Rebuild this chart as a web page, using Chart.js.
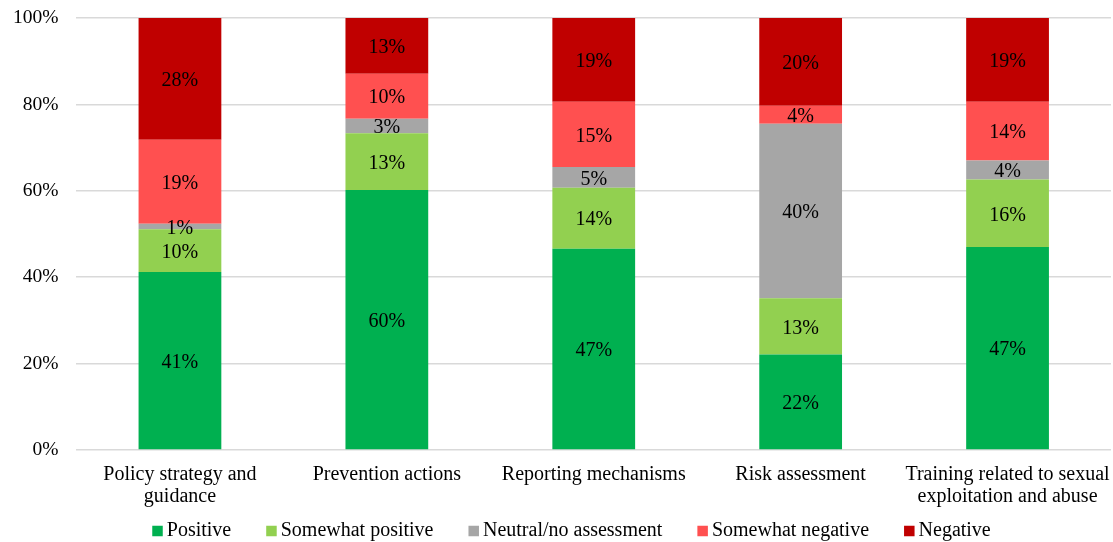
<!DOCTYPE html>
<html>
<head>
<meta charset="utf-8">
<script src="https://cdn.jsdelivr.net/npm/chart.js@4/dist/chart.umd.min.js"></script>
<style>
  html, body { margin: 0; padding: 0; background: #fff; }
  #wrap { position: relative; width: 1113px; height: 542px; }
</style>
</head>
<body>
<div id="wrap"><canvas id="chart"></canvas></div>
<script>
// Categories (multi-line labels as drawn under the axis)
const categories = [
  ['Policy strategy and', 'guidance'],
  'Prevention actions',
  'Reporting mechanisms',
  'Risk assessment',
  ['Training related to sexual', 'exploitation and abuse']
];

// Shares in percent (labels show them rounded)
const positive         = [41.2, 60.2, 46.6, 22.1, 47.0];
const somewhatPositive = [9.9, 13.1, 14.1, 13.0, 15.6];
const neutral          = [1.3, 3.4, 4.8, 40.4, 4.4];
const somewhatNegative = [19.4, 10.4, 15.1, 4.2, 13.6];
const negative         = [28.2, 12.9, 19.4, 20.3, 19.4];

const yTicks = [0, 20, 40, 60, 80, 100];

const FONT = '"Liberation Serif", "Times New Roman", serif';

// in-bar value labels (no datalabels plugin offline)
const barLabels = {
  id: 'barLabels',
  afterDatasetsDraw(chart) {
    const ctx = chart.ctx;
    ctx.save();
    ctx.font = '20px ' + FONT;
    ctx.fillStyle = '#000';
    ctx.textAlign = 'center';
    ctx.textBaseline = 'middle';
    chart.data.datasets.forEach((ds, i) => {
      chart.getDatasetMeta(i).data.forEach((bar, j) => {
        const y = (bar.y + bar.base) / 2;
        ctx.fillText(Math.round(ds.data[j]) + '%', bar.x, y + 2);
      });
    });
    ctx.restore();
  }
};

// legend drawn by hand so the gaps between items can be wide like the original
const wideLegend = {
  id: 'wideLegend',
  afterDraw(chart) {
    const ctx = chart.ctx;
    const box = 10.5, boxGap = 4, itemGap = 35;
    ctx.save();
    ctx.font = '20px ' + FONT;
    const items = chart.data.datasets.map(ds => ({
      text: ds.label, color: ds.backgroundColor, w: ctx.measureText(ds.label).width
    }));
    const total = items.reduce((s, it) => s + box + boxGap + it.w, 0) + itemGap * (items.length - 1);
    let x = chart.width / 2 + 15 - total / 2;
    const y = chart.height - 11;
    ctx.textBaseline = 'middle';
    ctx.textAlign = 'left';
    items.forEach(it => {
      ctx.fillStyle = it.color;
      ctx.fillRect(x, y - box / 2, box, box);
      ctx.fillStyle = '#000';
      ctx.fillText(it.text, x + box + boxGap, y);
      x += box + boxGap + it.w + itemGap;
    });
    ctx.restore();
  }
};

new Chart(document.getElementById('chart'), {
  type: 'bar',
  data: {
    labels: categories,
    datasets: [
      { label: 'Positive', data: positive, backgroundColor: '#00B050' },
      { label: 'Somewhat positive', data: somewhatPositive, backgroundColor: '#92D050' },
      { label: 'Neutral/no assessment', data: neutral, backgroundColor: '#A6A6A6' },
      { label: 'Somewhat negative', data: somewhatNegative, backgroundColor: '#FF5050' },
      { label: 'Negative', data: negative, backgroundColor: '#C00000' }
    ]
  },
  options: {
    responsive: true,
    maintainAspectRatio: false,
    animation: false,
    barPercentage: 0.4,
    categoryPercentage: 1,
    layout: { padding: { top: 18, right: 2, left: -5, bottom: 20 } },
    plugins: {
      tooltip: { enabled: false },
      legend: { display: false }
    },
    scales: {
      x: {
        stacked: true,
        grid: { display: false, drawTicks: false },
        border: { display: false },
        afterFit: (s) => { s.paddingLeft = 0; s.paddingRight = 0; },
        ticks: {
          font: { family: FONT, size: 20, lineHeight: 1.1 },
          color: '#000',
          maxRotation: 0,
          autoSkip: false,
          padding: 14
        }
      },
      y: {
        stacked: true,
        min: 0,
        max: 100,
        afterBuildTicks: (axis) => { axis.ticks = yTicks.map(v => ({ value: v })); },
        afterFit: (s) => { s.paddingTop = 0; s.paddingBottom = 0; },
        grid: { color: '#D9D9D9', lineWidth: 1.5, drawTicks: false },
        border: { display: false },
        ticks: {
          font: { family: FONT, size: 19.5 },
          color: '#000',
          padding: 18,
          callback: (v) => v + '%'
        }
      }
    }
  },
  plugins: [barLabels, wideLegend]
});
</script>
</body>
</html>
